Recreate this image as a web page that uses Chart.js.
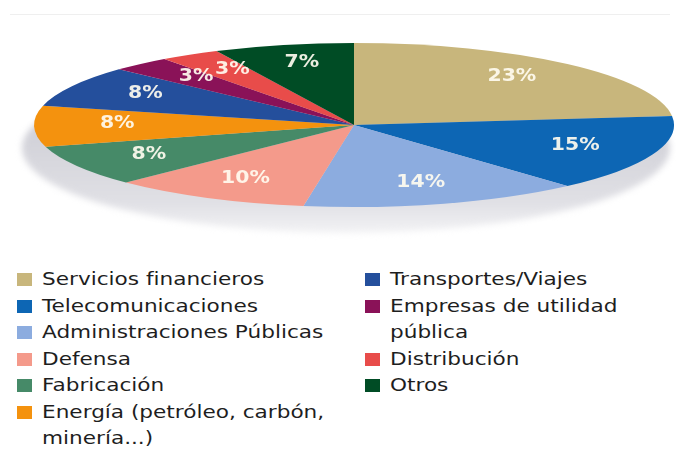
<!DOCTYPE html>
<html lang="es">
<head>
<meta charset="utf-8">
<title>Clientes por sector</title>
<script src="https://cdn.jsdelivr.net/npm/chart.js@4.4.0/dist/chart.umd.min.js"></script>
<style>
  body { margin: 0; background: #fff; font-family: "DejaVu Sans", sans-serif; }
  #contenedor { position: relative; width: 676px; height: 457px; overflow: hidden; }
  #linea { position: absolute; left: 10px; right: 6px; top: 14px; border-top: 1px solid #efefef; }
  #grafico { position: absolute; left: 0; top: 0; width: 676px; height: 250px; }
  #leyenda { position: absolute; top: 266px; left: 0; width: 676px; }
  .columna { position: absolute; top: 0; }
  .item { position: relative; padding-left: 25px; font-size: 18px; line-height: 26.5px; color: #1e1e1e; }
  .item .cuadro { position: absolute; left: 0; top: 7px; width: 15px; height: 13px; }
  .item .texto { display: block; transform: scaleX(1.2); transform-origin: left top; }
</style>
</head>
<body>
<div id="contenedor">
  <div id="linea"></div>
  <div id="grafico"><canvas id="graficoSectores"></canvas></div>
  <div id="leyenda"></div>
</div>
<script>
// Sectores y porcentajes (mismo orden que la leyenda, por columnas)
const categorias = [
  'Servicios financieros', 'Telecomunicaciones', 'Administraciones Públicas',
  'Defensa', 'Fabricación', 'Energía (petróleo, carbón, minería...)',
  'Transportes/Viajes', 'Empresas de utilidad pública', 'Distribución', 'Otros'
];
const porcentajes = [23, 15, 14, 10, 8, 8, 8, 3, 3, 7];
const colores = [
  '#c8b67c', '#0d66b4', '#8cacdf', '#f49a8b', '#468a68',
  '#f4920e', '#244f9c', '#8a1258', '#e84c4a', '#004c25'
];

// Cuantos sectores van en la primera columna de la leyenda
const enPrimeraColumna = 6;

// Semiejes de la elipse del "pastel" en pixeles
const RADIO_X = 320;
const RADIO_Y = 82;

// Aplasta el pastel en una elipse y dibuja la sombra gris de abajo
const pastelAplastado = {
  id: 'pastelAplastado',
  beforeDatasetsDraw(chart) {
    const ctx = chart.ctx;
    const arco = chart.getDatasetMeta(0).data[0];
    const cx = arco.x, cy = arco.y, r = arco.outerRadius;

    ctx.save();
    ctx.filter = 'blur(3px)';
    const degradado = ctx.createLinearGradient(0, cy, 0, cy + 110);
    degradado.addColorStop(0, '#d0d0d7');
    degradado.addColorStop(0.7, '#e0e0e5');
    degradado.addColorStop(1, '#f4f4f6');
    ctx.fillStyle = degradado;
    ctx.beginPath();
    ctx.ellipse(cx - 8, cy + 23, RADIO_X + 4, RADIO_Y + 3, 0, 0, Math.PI * 2);
    ctx.fill();
    ctx.restore();

    ctx.save();
    ctx.translate(cx, cy);
    ctx.scale(RADIO_X / r, RADIO_Y / r);
    ctx.translate(-cx, -cy);
  },
  afterDatasetsDraw(chart) {
    const ctx = chart.ctx;
    ctx.restore();

    // Porcentajes encima de cada porcion
    const meta = chart.getDatasetMeta(0);
    ctx.save();
    ctx.font = 'bold 17px "DejaVu Sans"';
    ctx.fillStyle = 'rgba(255, 252, 240, 0.92)';
    ctx.textAlign = 'center';
    ctx.textBaseline = 'middle';
    meta.data.forEach((arco, i) => {
      const medio = (arco.startAngle + arco.endAngle) / 2;
      const x = arco.x + RADIO_X * 0.74 * Math.cos(medio);
      const y = arco.y + RADIO_Y * 0.76 * Math.sin(medio) - 2;
      ctx.save();
      ctx.translate(x, y);
      ctx.scale(1.2, 1);
      ctx.fillText(porcentajes[i] + '%', 0, 0);
      ctx.restore();
    });
    ctx.restore();
  }
};

function inicializarGrafico() {
  const ctx = document.getElementById('graficoSectores').getContext('2d');
  new Chart(ctx, {
    type: 'pie',
    data: {
      labels: categorias,
      datasets: [{
        data: porcentajes,
        backgroundColor: colores,
        borderWidth: 0,
        clip: false
      }]
    },
    options: {
      responsive: true,
      maintainAspectRatio: false,
      animation: false,
      layout: { padding: { left: 32 } },
      plugins: {
        legend: { display: false },
        tooltip: { enabled: false }
      }
    },
    plugins: [pastelAplastado]
  });
}

// Leyenda en dos columnas
function construirLeyenda() {
  const leyenda = document.getElementById('leyenda');
  const columnas = [
    { izquierda: 17, ancho: 250, desde: 0, hasta: enPrimeraColumna },
    { izquierda: 365, ancho: 230, desde: enPrimeraColumna, hasta: categorias.length }
  ];
  columnas.forEach(col => {
    const div = document.createElement('div');
    div.className = 'columna';
    div.style.left = col.izquierda + 'px';
    for (let i = col.desde; i < col.hasta; i++) {
      div.innerHTML += `
        <div class="item">
          <span class="cuadro" style="background:${colores[i]}"></span>
          <span class="texto" style="width:${col.ancho}px">${categorias[i]}</span>
        </div>`;
    }
    leyenda.appendChild(div);
  });
}

document.addEventListener('DOMContentLoaded', () => {
  construirLeyenda();
  inicializarGrafico();
});
</script>
</body>
</html>
